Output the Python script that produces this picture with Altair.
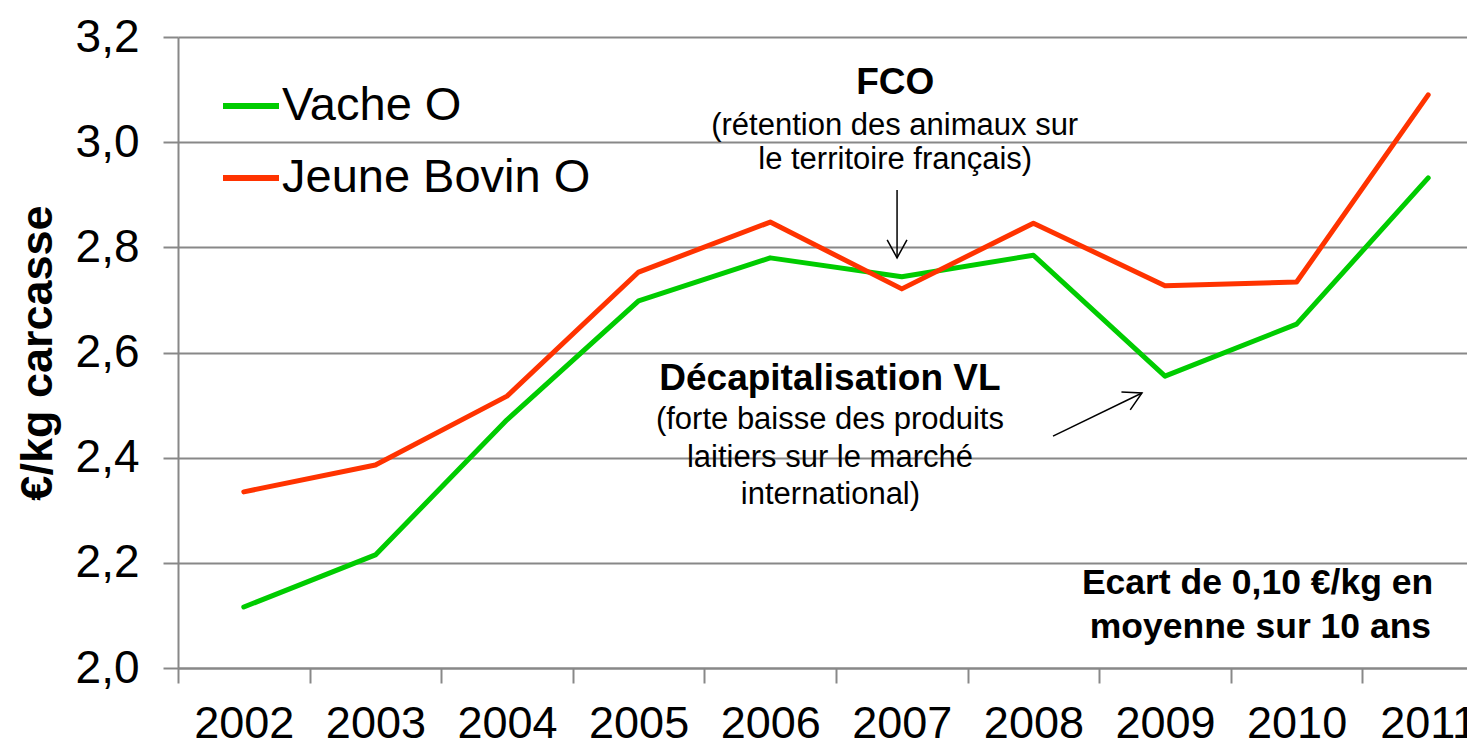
import altair as alt
import pandas as pd

# ---- data ----
years = [2002, 2003, 2004, 2005, 2006, 2007, 2008, 2009, 2010, 2011]
vache_o = [2.116, 2.215, 2.472, 2.698, 2.780, 2.744, 2.785, 2.555, 2.654, 2.932]
jeune_bovin_o = [2.335, 2.386, 2.517, 2.753, 2.848, 2.721, 2.846, 2.727, 2.734, 3.090]
series_names = ["Vache O", "Jeune Bovin O"]
series_colors = ["#00cc00", "#ff3300"]

y_ticks = [2.0, 2.2, 2.4, 2.6, 2.8, 3.0, 3.2]

bold_texts = ["FCO", "Décapitalisation VL", "Ecart de 0,10 €/kg en", "moyenne sur 10 ans"]
bold_x = [2006.95, 2006.454, 2009.703, 2009.725]
bold_y = [3.113, 2.550, 2.162, 2.078]
bold_size = [37, 37, 35.5, 35.5]

note_texts = ["(rétention des animaux sur", "le territoire français)",
              "(forte baisse des produits", "laitiers sur le marché", "international)"]
note_x = [2006.946, 2006.95, 2006.454, 2006.454, 2006.458]
note_y = [3.031, 2.966, 2.472, 2.399, 2.329]

arrow_x = [2006.964, 2008.149]
arrow_y = [2.909, 2.441]
arrow_x2 = [2006.964, 2008.825]
arrow_y2 = [2.780, 2.523]
arrow_angle = [0, 243.7]

# ---- layout ----
PLOT_W = 1289
PLOT_H = 631
STEP = 131.6
x_min = 2001.5
x_max = x_min + PLOT_W / STEP
FONT = "Liberation Sans"

x_vals = [y + 0.5 for y in range(2001, 2011)] + years

df_lines = pd.DataFrame({
    "year": years * 2,
    "value": vache_o + jeune_bovin_o,
    "series": [series_names[0]] * len(years) + [series_names[1]] * len(years),
})
df_bold = pd.DataFrame({"year": bold_x, "value": bold_y, "text": bold_texts, "fs": bold_size})
df_note = pd.DataFrame({"year": note_x, "value": note_y, "text": note_texts})
df_arrow = pd.DataFrame({"year": arrow_x, "value": arrow_y, "year2": arrow_x2,
                         "value2": arrow_y2})
df_head = pd.DataFrame({"year": arrow_x2, "value": arrow_y2, "angle": arrow_angle})


def X():
    return alt.X(
        "year:Q",
        scale=alt.Scale(domain=[x_min, x_max], nice=False, zero=False),
        axis=alt.Axis(
            values=x_vals,
            title=None,
            grid=False,
            labelExpr="datum.value % 1 === 0 ? toString(datum.value) : ''",
            labelFont=FONT,
            labelFontSize=45,
            labelColor="#000000",
            labelPadding=18,
            labelOverlap=False,
            labelFlush=False,
            labelBound=False,
            tickSize=15,
            tickWidth=2,
            tickColor="#888888",
            tickOpacity={"condition": {"test": "datum.value % 1 === 0", "value": 0}, "value": 1},
            domainColor="#888888",
            domainWidth=2,
        ),
    )


def Y():
    return alt.Y(
        "value:Q",
        scale=alt.Scale(domain=[2.0, 3.2], nice=False, zero=False),
        axis=alt.Axis(
            values=y_ticks,
            title="€/kg carcasse",
            titleFont=FONT,
            titleFontSize=45,
            titleFontWeight="bold",
            titleColor="#000000",
            titleAngle=270,
            titleX=-141,
            titleY=PLOT_H / 2,
            titleAlign="center",
            titleBaseline="middle",
            labelExpr="replace(format(datum.value, '.1f'), '.', ',')",
            labelFont=FONT,
            labelFontSize=46,
            labelColor="#000000",
            labelPadding=24,
            tickSize=15,
            tickWidth=2,
            tickColor="#888888",
            grid=True,
            gridColor="#888888",
            gridWidth=2,
            domainColor="#888888",
            domainWidth=2,
        ),
    )


lines = alt.Chart(df_lines).mark_line(strokeWidth=5, strokeCap="round", strokeJoin="round").encode(
    x=X(),
    y=Y(),
    color=alt.Color(
        "series:N",
        scale=alt.Scale(domain=series_names, range=series_colors),
        legend=alt.Legend(
            title=None,
            orient="none",
            legendX=42,
            legendY=38,
            symbolType="stroke",
            symbolSize=3136,
            symbolStrokeWidth=6,
            labelFont=FONT,
            labelFontSize=47,
            labelColor="#000000",
            labelOffset=0,
            labelLimit=0,
            rowPadding=18,
        ),
    ),
)

bold = alt.Chart(df_bold).mark_text(font=FONT, fontWeight="bold", color="#000000",
                                     align="center", baseline="middle").encode(
    x=X(), y=Y(), text="text:N", size=alt.Size("fs:Q", scale=None, legend=None)
)

notes = alt.Chart(df_note).mark_text(font=FONT, fontSize=31, color="#000000",
                                      align="center", baseline="middle").encode(
    x=X(), y=Y(), text="text:N"
)

arrows = alt.Chart(df_arrow).mark_rule(color="#000000", strokeWidth=1.5).encode(
    x=X(), y=Y(), x2="year2:Q", y2="value2:Q"
)

heads = alt.Chart(df_head).mark_point(
    shape="M -0.55 -1 L 0 0 L 0.55 -1", filled=False, color="#000000",
    strokeWidth=1.5, size=1296, opacity=1,
).encode(
    x=X(), y=Y(),
    angle=alt.Angle("angle:Q", scale=None),
)

chart = alt.layer(lines, arrows, heads, bold, notes).properties(
    width=PLOT_W,
    height=PLOT_H,
    autosize=alt.AutoSizeParams(type="none"),
    padding={"left": 170, "top": 29, "right": 0, "bottom": 79},
    background="#ffffff",
).configure_view(stroke=None)

chart.save("out.html", embed_options={"renderer": "svg", "actions": False})
